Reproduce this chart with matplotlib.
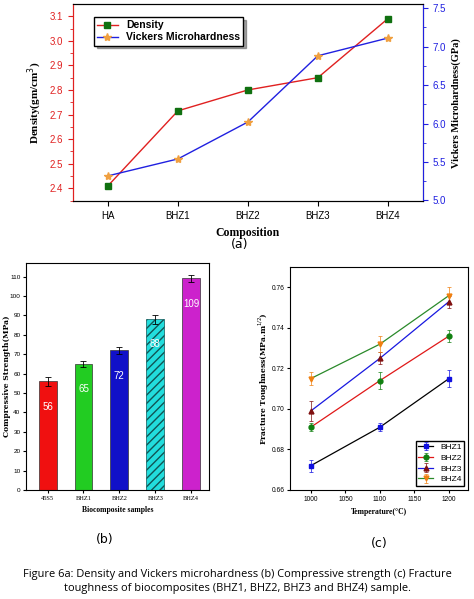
import matplotlib.pyplot as plt
import numpy as np

# (a) density / microhardness
comp = ['HA', 'BHZ1', 'BHZ2', 'BHZ3', 'BHZ4']
density = [2.41, 2.715, 2.80, 2.85, 3.09]
vickers = [5.32, 5.54, 6.02, 6.88, 7.11]

# (b) compressive strength
samples = ['45S5', 'BHZ1', 'BHZ2', 'BHZ3', 'BHZ4']
strength = [56, 65, 72, 88, 109]
strength_err = [2.2, 1.6, 1.8, 2.4, 1.8]
bar_colors = ['#f01010', '#22cc22', '#1010c8', '#22dddd', '#cc22cc']

# (c) fracture toughness
temps = [1000, 1100, 1200]
tough = {
    'BHZ1': [0.672, 0.691, 0.715],
    'BHZ2': [0.691, 0.714, 0.736],
    'BHZ3': [0.699, 0.725, 0.753],
    'BHZ4': [0.715, 0.732, 0.756],
}
tough_err = {
    'BHZ1': [0.003, 0.002, 0.004],
    'BHZ2': [0.002, 0.004, 0.003],
    'BHZ3': [0.005, 0.003, 0.003],
    'BHZ4': [0.003, 0.004, 0.004],
}
line_col = {'BHZ1': 'black', 'BHZ2': '#e01818', 'BHZ3': '#1818e0', 'BHZ4': '#2a8a2a'}
mark_col = {'BHZ1': '#1010e0', 'BHZ2': '#108010', 'BHZ3': '#801010', 'BHZ4': '#f08010'}
markers = {'BHZ1': 's', 'BHZ2': 'o', 'BHZ3': '^', 'BHZ4': 'v'}

serif = 'Liberation Serif'
sans = 'Liberation Sans'

fig = plt.figure(figsize=(4.74, 5.99), dpi=100)

# ---------- panel a
ax = fig.add_axes([0.154, 0.664, 0.738, 0.329])
ax2 = ax.twinx()
x = np.arange(len(comp))
l1, = ax.plot(x, density, color='#e02020', lw=1, marker='s', ms=4,
              mfc='#107010', mec='#107010', label='Density')
l2, = ax2.plot(x, vickers, color='#2020e0', lw=1, marker='*', ms=6,
               mfc='#f0a040', mec='#f0a040', label='Vickers Microhardness')
ax.set_xlim(-0.5, 4.5)
ax.set_ylim(2.347, 3.149)
ax2.set_ylim(4.99, 7.55)
ax.set_xticks(x)
ax.set_xticklabels(comp, fontsize=7, fontfamily=sans)
ax.set_yticks(np.arange(2.4, 3.11, 0.1))
ax.set_yticks(np.arange(2.35, 3.15, 0.05), minor=True)
ax2.set_yticks(np.arange(5.0, 7.51, 0.5))
ax2.set_yticks(np.arange(5.0, 7.55, 0.25), minor=True)
ax.tick_params(axis='y', which='both', colors='#e02020', labelsize=7, direction='out')
ax.tick_params(axis='x', labelsize=7, direction='out')
ax2.tick_params(axis='y', which='both', colors='#2020e0', labelsize=7, direction='out')
for lab in ax.get_yticklabels() + ax2.get_yticklabels():
    lab.set_fontfamily(sans)
ax2.spines['left'].set_color('#e02020')
ax2.spines['right'].set_color('#2020e0')
ax.spines['left'].set_color('#e02020')
ax.set_ylabel('Density(gm/cm$^3$)', fontfamily=serif, fontweight='bold', fontsize=8)
ax2.set_ylabel('Vickers Microhardness(GPa)', fontfamily=serif, fontweight='bold', fontsize=7.5)
ax.set_xlabel('Composition', fontfamily=serif, fontweight='bold', fontsize=8.5)
leg = ax.legend(handles=[l1, l2], loc='upper left', bbox_to_anchor=(0.045, 0.96),
                prop={'family': sans, 'weight': 'bold', 'size': 7.5},
                fancybox=False, shadow=True, edgecolor='black',
                handlelength=2, borderpad=0.3, labelspacing=0.2, framealpha=1)
fig.text(0.506, 1 - 245 / 599, '(a)', ha='center', va='center', fontsize=9)

# ---------- panel b
bx = fig.add_axes([0.055, 0.182, 0.386, 0.379])
xb = np.arange(len(samples))
bars = bx.bar(xb, strength, width=0.5, color=bar_colors, edgecolor='#333333', lw=0.5,
              yerr=strength_err, capsize=2, error_kw={'elinewidth': 0.6, 'capthick': 0.6})
bars[3].set_hatch('////')
bars[3].set_edgecolor('#115555')
for xi, v in zip(xb, strength):
    bx.text(xi, v - 13, str(v), ha='center', va='center', color='white',
            fontsize=7, fontfamily=sans)
bx.set_xlim(-0.6, 4.5)
bx.set_ylim(0, 117)
bx.set_xticks(xb)
bx.set_xticklabels(samples, fontfamily=serif, fontsize=5)
bx.set_yticks(np.arange(0, 111, 10))
bx.tick_params(labelsize=4.6, direction='out', length=2.5, pad=1.5)
for lab in bx.get_yticklabels():
    lab.set_fontfamily(sans)
bx.set_ylabel('Compressive Strength(MPa)', fontfamily='DejaVu Serif', fontweight='bold', fontsize=5.5)
bx.yaxis.set_label_coords(-0.085, 0.5)
bx.set_xlabel('Biocomposite samples', fontfamily=serif, fontweight='bold', fontsize=5.5)
fig.text(105 / 474, 1 - 540 / 599, '(b)', ha='center', va='center', fontsize=9)

# ---------- panel c
cx = fig.add_axes([0.612, 0.182, 0.376, 0.372])
for name in tough:
    cx.errorbar(temps, tough[name], yerr=tough_err[name], color=line_col[name], lw=0.9,
                marker=markers[name], ms=3.5, mfc=mark_col[name], mec=mark_col[name],
                ecolor=mark_col[name], elinewidth=0.5, capsize=1.5, capthick=0.5,
                label=name)
cx.set_xlim(970, 1228)
cx.set_ylim(0.66, 0.770)
cx.set_xticks([1000, 1050, 1100, 1150, 1200])
cx.set_yticks(np.arange(0.66, 0.761, 0.02))
cx.yaxis.set_major_formatter(plt.FormatStrFormatter('%.2f'))
cx.tick_params(labelsize=4.8, direction='out', length=2.5, pad=1.5)
for lab in cx.get_xticklabels() + cx.get_yticklabels():
    lab.set_fontfamily(sans)
cx.set_ylabel('Fracture Toughness(MPa.m$^{1/2}$)', fontfamily='DejaVu Serif',
              fontweight='bold', fontsize=5.5)
cx.yaxis.set_label_coords(-0.105, 0.5)
cx.set_xlabel('Temperature(°C)', fontfamily=serif, fontweight='bold', fontsize=5.5)
cx.legend(loc='lower right', prop={'family': sans, 'size': 6}, fancybox=False,
          edgecolor='black', handlelength=1.8, borderpad=0.3, labelspacing=0.35,
          framealpha=1)
fig.text(379 / 474, 1 - 543 / 599, '(c)', ha='center', va='center', fontsize=9)

# caption
fig.text(0.5, 1 - 575 / 599,
         'Figure 6a: Density and Vickers microhardness (b) Compressive strength (c) Fracture',
         ha='center', va='center', fontsize=7.9, fontfamily='Open Sans')
fig.text(0.5, 1 - 588 / 599,
         'toughness of biocomposites (BHZ1, BHZ2, BHZ3 and BHZ4) sample.',
         ha='center', va='center', fontsize=7.9, fontfamily='Open Sans')

fig.savefig('out.png', dpi=100)
